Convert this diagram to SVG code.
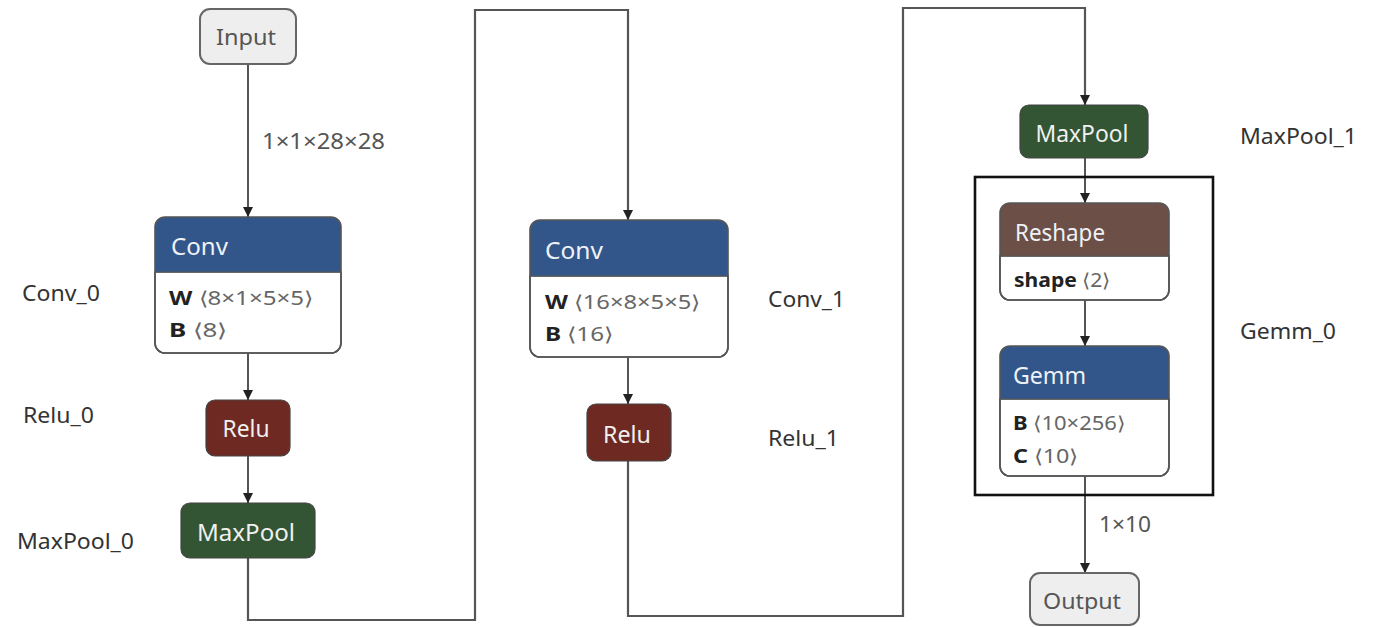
<svg xmlns="http://www.w3.org/2000/svg" width="1381" height="627" viewBox="0 0 1381 627">
  <defs>
    <marker id="arrow" viewBox="0 0 10 10" refX="10" refY="5" markerWidth="10" markerHeight="10" markerUnits="userSpaceOnUse" orient="auto">
      <path d="M0,0 L10,5 L0,10 z" fill="#222"/>
    </marker>
    <style>
      text { font-family: "Noto Sans", "Open Sans", sans-serif; }
      .edge { fill: none; stroke: #2a2a2a; stroke-width: 1.6; }
      .edge.long { stroke: #555; stroke-width: 2.2; }
      .io { fill: #eeeeee; stroke: #666; stroke-width: 2; }
      .io-t { font-size: 22px; fill: #555; text-anchor: middle; }
      .hdr-t { font-size: 23px; fill: #eef2f6; }
      .op-t { font-size: 23px; fill: #f0f0f0; text-anchor: middle; }
      .body { fill: #ffffff; stroke: #555; stroke-width: 1.6; }
      .outline { fill: none; stroke: #555; stroke-width: 1.6; }
      .attr { font-size: 19px; fill: #666; }
      .attr .k { font-weight: bold; fill: #222; }
      .lbl { font-size: 21px; fill: #333; }
      .shape-t { font-size: 21px; fill: #555; }
      .conv { fill: #32568a; }
      .relu { fill: #6e2a22; }
      .pool { fill: #335533; }
      .reshape { fill: #6c4f47; }
    </style>
  </defs>

  <!-- connectors -->
  <g id="edges">
    <path class="edge" d="M248,64 V217" marker-end="url(#arrow)"/>
    <path class="edge" d="M248,353 V400" marker-end="url(#arrow)"/>
    <path class="edge" d="M248,456 V503" marker-end="url(#arrow)"/>
    <path class="edge long" d="M248,558 V620 H475 V10 H628 V220" marker-end="url(#arrow)"/>
    <path class="edge" d="M628,357 V404" marker-end="url(#arrow)"/>
    <path class="edge long" d="M628,461 V616 H903 V8 H1085 V105" marker-end="url(#arrow)"/>
    <path class="edge" d="M1085,158 V203" marker-end="url(#arrow)"/>
    <path class="edge" d="M1085,300 V346" marker-end="url(#arrow)"/>
    <path class="edge" d="M1085,476 V573" marker-end="url(#arrow)"/>
    <text class="shape-t" x="262" y="149" textLength="123" lengthAdjust="spacingAndGlyphs">1×1×28×28</text>
    <text class="shape-t" x="1099" y="532" textLength="52" lengthAdjust="spacingAndGlyphs">1×10</text>
  </g>

  <!-- Gemm_0 group frame -->
  <rect id="gemm-frame" x="975" y="177" width="238" height="318" fill="none" stroke="#111" stroke-width="2.6"/>

  <g id="input">
    <rect class="io" x="200" y="9" width="96" height="55" rx="10"/>
    <text class="io-t" x="246" y="45" textLength="60" lengthAdjust="spacingAndGlyphs">Input</text>
  </g>

  <g id="conv0">
    <path class="body" d="M155,272 H341 V343 a10,10 0 0 1 -10,10 H165 a10,10 0 0 1 -10,-10 Z"/>
    <path class="conv" d="M165,217 H331 a10,10 0 0 1 10,10 V272 H155 V227 a10,10 0 0 1 10,-10 Z"/>
    <rect class="outline" x="155" y="217" width="186" height="136" rx="10"/>
    <line x1="155" y1="272" x2="341" y2="272" stroke="#555" stroke-width="1.2"/>
    <text class="hdr-t" x="171" y="255" textLength="57" lengthAdjust="spacingAndGlyphs">Conv</text>
    <text class="attr" x="169" y="305" textLength="144" lengthAdjust="spacingAndGlyphs"><tspan class="k">W</tspan> ⟨8×1×5×5⟩</text>
    <text class="attr" x="169" y="337" textLength="58" lengthAdjust="spacingAndGlyphs"><tspan class="k">B</tspan> ⟨8⟩</text>
  </g>
  <text class="lbl" x="22" y="301" textLength="78" lengthAdjust="spacingAndGlyphs">Conv_0</text>

  <g id="relu0">
    <rect class="relu" x="206" y="400" width="84" height="56" rx="9" stroke="#444" stroke-width="1.2"/>
    <text class="op-t" x="246" y="437" textLength="47" lengthAdjust="spacingAndGlyphs">Relu</text>
  </g>
  <text class="lbl" x="23" y="423" textLength="71" lengthAdjust="spacingAndGlyphs">Relu_0</text>

  <g id="maxpool0">
    <rect class="pool" x="181" y="503" width="134" height="55" rx="9" stroke="#444" stroke-width="1.2"/>
    <text class="op-t" x="246" y="541" textLength="98" lengthAdjust="spacingAndGlyphs">MaxPool</text>
  </g>
  <text class="lbl" x="17" y="549" textLength="117" lengthAdjust="spacingAndGlyphs">MaxPool_0</text>

  <g id="conv1">
    <path class="body" d="M530,276 H728 V347 a10,10 0 0 1 -10,10 H540 a10,10 0 0 1 -10,-10 Z"/>
    <path class="conv" d="M540,220 H718 a10,10 0 0 1 10,10 V276 H530 V230 a10,10 0 0 1 10,-10 Z"/>
    <rect class="outline" x="530" y="220" width="198" height="137" rx="10"/>
    <line x1="530" y1="276" x2="728" y2="276" stroke="#555" stroke-width="1.2"/>
    <text class="hdr-t" x="545" y="259" textLength="58" lengthAdjust="spacingAndGlyphs">Conv</text>
    <text class="attr" x="545" y="309" textLength="155" lengthAdjust="spacingAndGlyphs"><tspan class="k">W</tspan> ⟨16×8×5×5⟩</text>
    <text class="attr" x="545" y="341" textLength="68" lengthAdjust="spacingAndGlyphs"><tspan class="k">B</tspan> ⟨16⟩</text>
  </g>
  <text class="lbl" x="768" y="307" textLength="77" lengthAdjust="spacingAndGlyphs">Conv_1</text>

  <g id="relu1">
    <rect class="relu" x="587" y="404" width="84" height="57" rx="9" stroke="#444" stroke-width="1.2"/>
    <text class="op-t" x="627" y="443" textLength="48" lengthAdjust="spacingAndGlyphs">Relu</text>
  </g>
  <text class="lbl" x="768" y="446" textLength="71" lengthAdjust="spacingAndGlyphs">Relu_1</text>

  <g id="maxpool1">
    <rect class="pool" x="1020" y="105" width="128" height="53" rx="9" stroke="#444" stroke-width="1.2"/>
    <text class="op-t" x="1082" y="142" textLength="93" lengthAdjust="spacingAndGlyphs">MaxPool</text>
  </g>
  <text class="lbl" x="1240" y="144" textLength="117" lengthAdjust="spacingAndGlyphs">MaxPool_1</text>

  <g id="reshape">
    <path class="body" d="M1000,256 H1169 V290 a10,10 0 0 1 -10,10 H1010 a10,10 0 0 1 -10,-10 Z"/>
    <path class="reshape" d="M1010,203 H1159 a10,10 0 0 1 10,10 V256 H1000 V213 a10,10 0 0 1 10,-10 Z"/>
    <rect class="outline" x="1000" y="203" width="169" height="97" rx="10"/>
    <line x1="1000" y1="256" x2="1169" y2="256" stroke="#555" stroke-width="1.2"/>
    <text class="hdr-t" x="1015" y="241" textLength="90" lengthAdjust="spacingAndGlyphs">Reshape</text>
    <text class="attr" x="1014" y="287" textLength="96" lengthAdjust="spacingAndGlyphs"><tspan class="k">shape</tspan> ⟨2⟩</text>
  </g>

  <g id="gemm">
    <path class="body" d="M1000,399 H1169 V466 a10,10 0 0 1 -10,10 H1010 a10,10 0 0 1 -10,-10 Z"/>
    <path class="conv" d="M1010,346 H1159 a10,10 0 0 1 10,10 V399 H1000 V356 a10,10 0 0 1 10,-10 Z"/>
    <rect class="outline" x="1000" y="346" width="169" height="130" rx="10"/>
    <line x1="1000" y1="399" x2="1169" y2="399" stroke="#555" stroke-width="1.2"/>
    <text class="hdr-t" x="1013" y="384" textLength="73" lengthAdjust="spacingAndGlyphs">Gemm</text>
    <text class="attr" x="1013" y="430" textLength="112" lengthAdjust="spacingAndGlyphs"><tspan class="k">B</tspan> ⟨10×256⟩</text>
    <text class="attr" x="1013" y="463" textLength="65" lengthAdjust="spacingAndGlyphs"><tspan class="k">C</tspan> ⟨10⟩</text>
  </g>
  <text class="lbl" x="1240" y="339" textLength="96" lengthAdjust="spacingAndGlyphs">Gemm_0</text>

  <g id="output">
    <rect class="io" x="1030" y="573" width="109" height="52" rx="10"/>
    <text class="io-t" x="1082" y="609" textLength="78" lengthAdjust="spacingAndGlyphs">Output</text>
  </g>
</svg>
